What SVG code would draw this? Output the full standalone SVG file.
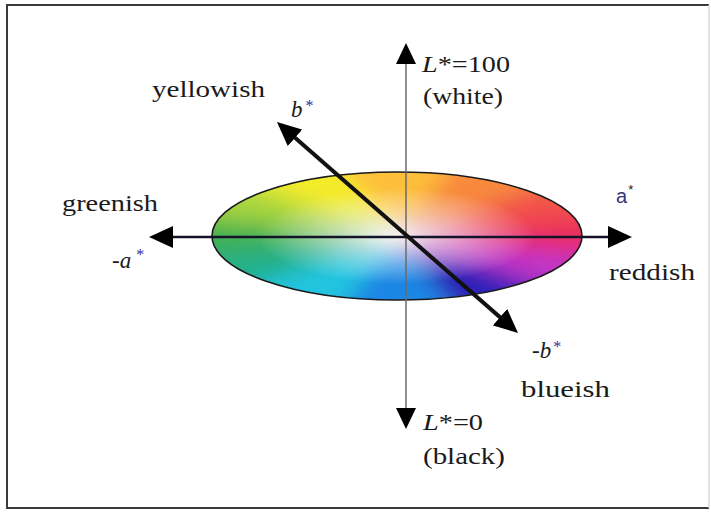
<svg xmlns="http://www.w3.org/2000/svg" width="711" height="516" viewBox="0 0 711 516">
  <style>
    .lbl { font-family: "Liberation Serif", "Times New Roman", serif; font-size: 23px; fill: #1a1a1a; }
    .it { font-style: italic; }
    .ast { fill: #3030a0; }
    .axis { stroke: #141428; stroke-width: 2.5; fill: none; }
    .laxis { stroke: #6a6a6a; stroke-width: 1.5; fill: none; }
    .baxis { stroke: #111; stroke-width: 4; fill: none; }
  </style>
  <defs>
    <marker id="head" markerUnits="userSpaceOnUse" viewBox="0 0 24 22" markerWidth="24" markerHeight="22" refX="14" refY="11" orient="auto-start-reverse">
      <path d="M0,0 L24,11 L0,22 Z" fill="#000"/>
    </marker>
    <marker id="headL" markerUnits="userSpaceOnUse" viewBox="0 0 21 20" markerWidth="21" markerHeight="20" refX="12" refY="10" orient="auto-start-reverse">
      <path d="M0,0 L21,10 L0,20 Z" fill="#000"/>
    </marker>
    <clipPath id="clipE">
      <ellipse cx="397" cy="236" rx="185" ry="64"/>
    </clipPath>
    <filter id="blur" x="-20%" y="-40%" width="140%" height="180%">
      <feGaussianBlur stdDeviation="11"/>
    </filter>
    <radialGradient id="whiteC" cx="0.5" cy="0.5" r="0.5">
      <stop offset="0" stop-color="#ffffff" stop-opacity="0.85"/>
      <stop offset="0.3" stop-color="#f4f4f8" stop-opacity="0.55"/>
      <stop offset="0.75" stop-color="#ffffff" stop-opacity="0"/>
    </radialGradient>
  </defs>

  <rect x="0" y="0" width="711" height="516" fill="#ffffff"/>
  <path d="M709,5 L7,5 L7,508 L709,508" fill="none" stroke="#3a3a3a" stroke-width="2"/>
  <line x1="709" y1="5" x2="709" y2="508" stroke="#d8d8d8" stroke-width="1.5"/>

  <g id="color-plane">
    <g clip-path="url(#clipE)">
      <rect x="200" y="160" width="400" height="150" fill="#dddde6"/>
      <g filter="url(#blur)">
        <g transform="translate(397,236) scale(185,64)">
          <path d="M0,0 L1.352,0.362 L1.352,-0.362 Z" fill="#ea2a5c"/>
          <path d="M0,0 L1.352,-0.362 L0.990,-0.990 Z" fill="#f2504a"/>
          <path d="M0,0 L0.990,-0.990 L0.362,-1.352 Z" fill="#f88a3c"/>
          <path d="M0,0 L0.362,-1.352 L-0.362,-1.352 Z" fill="#fdbf3a"/>
          <path d="M0,0 L-0.362,-1.352 L-0.990,-0.990 Z" fill="#f4ec2a"/>
          <path d="M0,0 L-0.990,-0.990 L-1.352,-0.362 Z" fill="#a8d63e"/>
          <path d="M0,0 L-1.352,-0.362 L-1.352,0.362 Z" fill="#3fb04e"/>
          <path d="M0,0 L-1.352,0.362 L-0.990,0.990 Z" fill="#22b08a"/>
          <path d="M0,0 L-0.990,0.990 L-0.362,1.352 Z" fill="#22c4e0"/>
          <path d="M0,0 L-0.362,1.352 L0.362,1.352 Z" fill="#1c86e4"/>
          <path d="M0,0 L0.362,1.352 L0.990,0.990 Z" fill="#2a24b8"/>
          <path d="M0,0 L0.990,0.990 L1.352,0.362 Z" fill="#c035c8"/>
        </g>
      </g>
      <ellipse cx="397" cy="236" rx="185" ry="64" fill="url(#whiteC)"/>
    </g>
    <ellipse cx="397" cy="236" rx="185" ry="64" fill="none" stroke="#1a1a1a" stroke-width="1.6"/>
  </g>

  <g id="connectors">
    <line class="laxis" x1="406" y1="52" x2="406" y2="420" marker-start="url(#headL)" marker-end="url(#headL)"/>
    <line class="axis" x1="159" y1="237" x2="622" y2="237" marker-start="url(#head)" marker-end="url(#head)"/>
    <line class="baxis" x1="284.5" y1="128.6" x2="510.5" y2="326.4" marker-start="url(#head)" marker-end="url(#head)"/>
  </g>

  <g id="label-L100">
    <text class="lbl" x="422" y="72" textLength="88" lengthAdjust="spacingAndGlyphs"><tspan class="it">L</tspan>*=100</text>
    <text class="lbl" x="423" y="104" textLength="80" lengthAdjust="spacingAndGlyphs">(white)</text>
  </g>
  <g id="label-yellowish">
    <text class="lbl" x="152" y="97" textLength="113" lengthAdjust="spacingAndGlyphs">yellowish</text>
  </g>
  <g id="label-bstar">
    <text class="lbl" x="291" y="117"><tspan class="it">b</tspan><tspan class="ast" dx="3" dy="-6" font-size="16">*</tspan></text>
  </g>
  <g id="label-greenish">
    <text class="lbl" x="62" y="211" textLength="96" lengthAdjust="spacingAndGlyphs">greenish</text>
  </g>
  <g id="label-minus-a">
    <text class="lbl" x="112" y="268">-<tspan class="it">a</tspan><tspan class="ast" dx="5" dy="-8" font-size="16">*</tspan></text>
  </g>
  <g id="label-astar">
    <text x="616" y="203" font-family="Liberation Sans, Arial, sans-serif" font-size="20" fill="#34347a">a<tspan dx="1" dy="-9" font-size="13" fill="#222">*</tspan></text>
  </g>
  <g id="label-reddish">
    <text class="lbl" x="609" y="280" textLength="86" lengthAdjust="spacingAndGlyphs">reddish</text>
  </g>
  <g id="label-minus-b">
    <text class="lbl" x="532" y="358">-<tspan class="it">b</tspan><tspan class="ast" dx="2" dy="-6" font-size="16">*</tspan></text>
  </g>
  <g id="label-blueish">
    <text class="lbl" x="521" y="397" textLength="89" lengthAdjust="spacingAndGlyphs">blueish</text>
  </g>
  <g id="label-L0">
    <text class="lbl" x="423" y="430" textLength="60" lengthAdjust="spacingAndGlyphs"><tspan class="it">L</tspan>*=0</text>
    <text class="lbl" x="423" y="464" textLength="82" lengthAdjust="spacingAndGlyphs">(black)</text>
  </g>
</svg>
